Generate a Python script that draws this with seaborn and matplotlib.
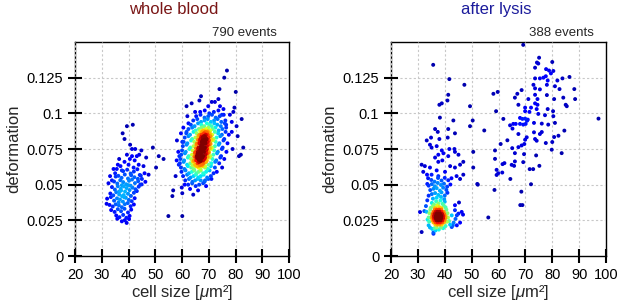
import numpy as np
import pandas as pd
import matplotlib
matplotlib.use('Agg')
import matplotlib.pyplot as plt
import seaborn as sns


# ---- whole blood: (cell size [um^2], deformation) events ----
wb_lymphocytes = [
    (39.4, .091), (41.6, .092), (37.8, .086), (38.5, .082), (40.6, .078), (41.3, .075), (42.5, .075), (44.8, .074),
    (39.4, .071), (41.3, .070), (43.1, .070), (46.6, .069), (36.5, .068), (38.5, .066), (40.0, .064), (43.8, .064),
    (45.6, .063), (34.4, .061), (35.6, .061), (37.5, .060), (41.9, .062), (42.3, .067), (44.0, .071), (40.5, .068),
    (36.0, .064), (35.0, .058), (33.1, .056), (33.8, .053), (32.5, .051), (45.0, .054), (46.3, .052), (44.4, .050),
    (46.0, .058), (37.0, .063),
    (38.0, .0595), (39.5, .0605), (40.8, .0578), (42.0, .0592), (43.3, .0608), (44.2, .0568),
    (36.2, .0562), (37.4, .0548), (38.6, .0571), (39.8, .0543), (41.0, .0566), (42.2, .0552), (43.5, .0541),
    (44.6, .0563), (35.2, .0557),
    (34.6, .0522), (35.8, .0508), (36.9, .0531), (38.0, .0518), (39.1, .0503), (40.2, .0527), (41.3, .0536),
    (42.4, .0511), (43.6, .0524), (44.9, .0502), (37.5, .0496), (40.8, .0493),
    (33.8, .0483), (34.9, .0466), (36.0, .0489), (37.1, .0471), (38.2, .0488), (39.3, .0476), (40.4, .0462),
    (41.5, .0479), (42.6, .0468), (43.8, .0486), (36.5, .0452), (39.8, .0497),
    (33.2, .0438), (34.3, .0425), (35.4, .0447), (36.5, .0431), (37.6, .0419), (38.7, .0452), (39.8, .0436),
    (40.9, .0421), (42.0, .0443), (43.1, .0455), (37.2, .0458), (38.2, .0427),
    (32.0, .0402), (33.4, .0413), (34.6, .0388), (35.7, .0404), (36.8, .0396), (37.9, .0381), (39.0, .0408),
    (40.1, .0393), (41.2, .0384), (42.3, .0405), (38.4, .0412), (36.3, .0376),
    (31.8, .0366), (32.9, .0358), (34.1, .0347), (35.2, .0362), (36.4, .0355), (37.5, .0342), (38.6, .0363),
    (39.7, .0371), (40.8, .0349), (42.0, .0361),
    (33.5, .0322), (34.8, .0309), (36.0, .0328), (37.2, .0314), (38.5, .0331), (39.8, .0305), (41.0, .0325),
    (35.4, .0284), (36.6, .0272), (38.0, .0288), (39.2, .0268), (40.4, .0281), (35.8, .0261), (38.6, .0251),
    (39.3, .0232), (37.5, .0243), (40.2, .0259),
]

wb_granulocytes = [
    (62.3, .050), (63.8, .051), (65.1, .049), (66.4, .050), (67.9, .051),
    (61.2, .053), (62.6, .054), (63.9, .052), (64.9, .053), (65.9, .054), (67.0, .053), (68.4, .052), (69.8, .054),
    (60.4, .056), (61.9, .057), (63.2, .055), (64.3, .056), (65.2, .057), (66.1, .055), (67.0, .056), (68.1, .057),
    (69.4, .055), (70.8, .056),
    (59.8, .059), (61.3, .060), (62.6, .058), (63.7, .059), (64.6, .060), (65.4, .058), (66.2, .059), (67.0, .060),
    (67.9, .058), (69.0, .059), (70.3, .060), (71.8, .058),
    (59.6, .062), (60.9, .061), (62.2, .063), (63.4, .062), (64.4, .061), (65.3, .063), (66.1, .062), (66.9, .061),
    (67.7, .063), (68.6, .062), (69.6, .061), (70.8, .063), (72.3, .062),
    (59.2, .065), (60.6, .066), (61.9, .064), (63.1, .065), (64.1, .066), (65.0, .064), (65.8, .065), (66.5, .066),
    (67.2, .064), (68.0, .065), (68.9, .066), (69.9, .064), (71.0, .065), (72.4, .066), (73.9, .065),
    (59.4, .068), (60.8, .067), (62.2, .069), (63.4, .068), (64.5, .067), (65.4, .069), (66.2, .068), (66.9, .067),
    (67.6, .069), (68.4, .068), (69.3, .067), (70.3, .069), (71.4, .068), (72.8, .067), (74.3, .069),
    (59.7, .071), (61.1, .072), (62.5, .070), (63.7, .071), (64.8, .072), (65.7, .070), (66.5, .071), (67.2, .072),
    (67.9, .070), (68.7, .071), (69.6, .072), (70.6, .070), (71.7, .071), (73.1, .072), (74.6, .070),
    (60.0, .074), (61.4, .073), (62.8, .075), (64.0, .074), (65.1, .073), (66.0, .075), (66.8, .074), (67.5, .073),
    (68.2, .075), (69.0, .074), (69.9, .073), (70.9, .075), (72.0, .074), (73.4, .073), (74.9, .075),
    (60.3, .077), (61.7, .078), (63.1, .076), (64.3, .077), (65.4, .078), (66.3, .076), (67.1, .077), (67.8, .078),
    (68.5, .076), (69.3, .077), (70.2, .078), (71.2, .076), (72.3, .077), (73.7, .078), (75.2, .076),
    (60.6, .080), (62.0, .079), (63.4, .081), (64.6, .080), (65.7, .079), (66.6, .081), (67.4, .080), (68.1, .079),
    (68.8, .081), (69.6, .080), (70.5, .079), (71.5, .081), (72.6, .080), (74.0, .079), (75.5, .081),
    (61.0, .083), (62.4, .084), (63.8, .082), (65.0, .083), (66.1, .084), (67.0, .082), (67.7, .083), (68.4, .084),
    (69.1, .082), (69.9, .083), (70.8, .084), (71.8, .082), (72.9, .083), (74.3, .084), (75.8, .082),
    (61.6, .086), (63.0, .085), (64.3, .087), (65.5, .086), (66.6, .085), (67.5, .087), (68.2, .086), (68.9, .085),
    (69.6, .087), (70.4, .086), (71.3, .085), (72.3, .087), (73.5, .086), (74.9, .085), (76.3, .087),
    (62.4, .089), (63.8, .090), (65.1, .088), (66.3, .089), (67.3, .090), (68.2, .088), (69.0, .089), (69.8, .090),
    (70.6, .088), (71.5, .089), (72.5, .090), (73.7, .088), (75.1, .089), (76.5, .090),
    (63.3, .092), (64.7, .091), (66.0, .093), (67.2, .092), (68.3, .091), (69.3, .093), (70.2, .092), (71.1, .091),
    (72.1, .093), (73.2, .092), (74.5, .091), (76.0, .093),
    (64.2, .095), (65.7, .096), (67.1, .094), (68.4, .095), (69.6, .096), (70.8, .094), (72.0, .095), (73.3, .096),
    (74.7, .094), (76.2, .095),
    (65.3, .098), (66.9, .099), (68.4, .097), (69.8, .098), (71.2, .099), (72.6, .097), (74.1, .098), (75.6, .099),
    (66.8, .101), (68.5, .102), (70.2, .100), (71.9, .101), (73.6, .102),
    # packed centre
    (64.0, .0635), (65.0, .064), (65.9, .063), (66.7, .0635), (67.6, .064), (68.6, .063),
    (64.3, .0665), (65.3, .067), (66.2, .066), (67.0, .0665), (67.9, .067), (68.9, .066),
    (64.6, .0695), (65.5, .070), (66.3, .069), (67.0, .0695), (67.7, .070), (68.6, .069), (69.6, .0695),
    (64.9, .0725), (65.9, .073), (66.7, .072), (67.4, .0725), (68.2, .073), (69.1, .072), (70.1, .0725),
    (65.2, .0755), (66.2, .076), (67.0, .075), (67.7, .0755), (68.5, .076), (69.4, .075), (70.4, .0755),
    (65.5, .0785), (66.5, .079), (67.3, .078), (68.0, .0785), (68.8, .079), (69.7, .078), (70.7, .0785),
    (65.9, .0815), (66.9, .082), (67.7, .081), (68.4, .0815), (69.2, .082), (70.1, .081), (71.0, .0815),
    (66.3, .0845), (67.3, .085), (68.1, .084), (68.8, .0845), (69.6, .085), (70.5, .084),
    (66.8, .0875), (67.8, .088), (68.7, .087), (69.6, .0875), (70.5, .088),
    (66.0, .0685), (66.6, .0705), (67.1, .0685), (65.8, .0715), (66.4, .0675), (66.9, .0725),
    (67.9, .0805), (68.6, .0835), (69.3, .0865), (67.2, .0835),
]

wb_scattered = [
    (49.1, .076), (51.3, .070), (53.1, .068), (50.3, .062), (47.5, .057), (54.9, .028), (60.1, .028),
    (76.8, .130), (75.8, .125), (80.1, .115), (67.1, .112), (66.5, .109), (63.6, .107), (61.7, .105), (71.1, .108),
    (72.3, .108), (74.2, .105), (79.6, .104), (79.2, .101), (77.9, .099), (82.3, .096), (80.4, .091), (78.6, .087),
    (80.8, .084), (82.9, .076), (82.0, .071), (81.3, .070), (78.9, .075), (73.0, .059), (68.6, .053), (64.2, .043),
    (59.9, .048), (60.1, .044), (56.7, .046), (56.4, .042), (57.6, .056), (58.0, .067), (58.6, .073), (58.1, .081),
    (59.6, .086), (60.1, .080), (61.7, .087), (62.4, .093), (64.9, .101), (69.8, .105), (73.6, .110), (74.0, .117),
    (58.8, .064), (59.0, .070), (60.5, .090), (62.0, .098), (76.5, .092), (77.5, .085), (77.0, .079), (76.6, .073),
    (75.8, .068), (75.0, .062), (71.0, .054), (61.0, .050), (63.0, .047), (66.0, .046), (69.0, .049), (74.9, .099),
    (75.5, .103), (78.6, .094),
]

# ---- after lysis ----
lys_core = [
    (36.5, .022), (37.3, .022), (38.1, .022), (38.9, .022),
    (35.8, .0235), (36.6, .0235), (37.4, .0235), (38.2, .0235), (39.0, .0235), (39.7, .0235),
    (35.4, .025), (36.1, .025), (36.9, .025), (37.6, .025), (38.4, .025), (39.1, .025), (39.9, .025),
    (35.2, .0265), (35.9, .0265), (36.6, .0265), (37.3, .0265), (38.0, .0265), (38.7, .0265), (39.4, .0265), (40.2, .0265),
    (35.3, .028), (36.0, .028), (36.7, .028), (37.4, .028), (38.1, .028), (38.8, .028), (39.5, .028), (40.3, .028),
    (35.5, .0295), (36.2, .0295), (36.9, .0295), (37.6, .0295), (38.3, .0295), (39.0, .0295), (39.8, .0295),
    (35.8, .031), (36.6, .031), (37.3, .031), (38.0, .031), (38.8, .031), (39.6, .031),
    (36.3, .0325), (37.1, .0325), (37.9, .0325), (38.7, .0325),
]

lys_small = [
    (34.5, .020), (35.3, .019), (36.2, .0195), (37.0, .020), (37.8, .0185), (38.6, .020), (39.4, .0195), (35.8, .0165),
    (36.6, .018), (34.0, .0215), (40.3, .021),
    (34.2, .024), (34.0, .027), (34.3, .030), (34.6, .0325), (33.6, .0255), (33.2, .031),
    (40.8, .024), (41.2, .027), (41.0, .030), (40.6, .0325), (41.6, .0245),
    (34.8, .0338), (35.6, .0349), (36.4, .0336), (37.2, .0352), (38.0, .0343), (38.8, .0335), (39.6, .0354), (40.3, .0341),
    (35.2, .0372), (36.0, .0361), (36.8, .0384), (37.6, .0368), (38.4, .0389), (39.2, .0366), (40.0, .0381),
    (35.6, .0402), (37.0, .0409), (38.6, .0414), (39.8, .0398),
    (34.0, .0423), (35.2, .0434), (36.4, .0441), (37.6, .0428), (38.8, .0446), (40.0, .0424), (41.0, .0443),
    (34.6, .0462), (35.8, .0471), (37.0, .0476), (38.2, .0458), (39.4, .0479), (40.6, .0463),
    (34.0, .0493), (35.2, .0504), (36.3, .0489), (37.4, .0512), (38.6, .0498), (39.7, .0507), (40.9, .0486),
    (42.1, .0501), (35.0, .0533), (36.2, .0521), (37.5, .0547), (38.8, .0529), (40.0, .0548), (41.3, .0531),
    (33.5, .0505), (33.8, .0545), (42.5, .0545),
    (43.8, .0356), (45.3, .0375), (43.8, .0321), (45.1, .0297), (46.3, .0309), (42.6, .0285), (44.5, .0285),
    (43.3, .0234), (44.5, .0215), (42.6, .0203), (45.7, .0234), (44.0, .026), (46.8, .029), (43.0, .0215), (42.0, .022),
    (35.8, .0156), (31.4, .0168), (30.8, .0308), (32.4, .0315), (33.0, .035), (33.5, .039),
    (35.7, .134), (41.7, .124), (47.3, .120), (41.3, .113), (41.0, .109), (38.9, .107), (38.0, .106), (49.4, .105),
    (38.2, .097), (43.2, .095), (50.4, .095), (49.4, .091), (36.4, .089), (41.3, .089), (37.4, .087), (43.8, .086),
    (33.3, .081), (34.9, .083), (38.0, .082), (41.1, .083), (34.5, .078), (35.1, .076), (37.0, .077), (38.9, .074),
    (43.6, .075), (43.8, .073), (41.7, .075), (37.6, .071), (39.5, .072), (41.3, .070), (45.1, .071), (50.6, .073),
    (31.4, .064), (36.4, .069), (37.6, .066), (39.1, .067), (32.6, .063), (34.5, .062), (37.0, .060), (45.7, .064),
    (46.9, .066), (42.0, .063), (43.8, .062), (40.1, .059), (35.1, .057), (37.6, .056), (44.4, .056), (45.7, .054),
    (46.9, .057), (50.6, .062), (52.3, .050), (54.7, .088), (56.2, .027), (32.0, .059), (33.4, .057),
]

lys_large = [
    (69.2, .148), (75.1, .139), (80.0, .136), (74.3, .1356), (74.8, .1349), (73.6, .132), (77.7, .131), (78.8, .130),
    (80.4, .1297), (79.5, .128), (77.6, .126), (86.4, .1255), (83.8, .1245), (81.9, .123), (78.3, .123), (76.7, .125),
    (75.4, .1245), (73.6, .1245), (78.0, .120), (81.0, .119), (82.7, .117), (88.2, .117), (75.4, .1168), (73.6, .1175),
    (73.0, .120), (68.6, .1163), (67.0, .1137), (59.7, .115), (58.1, .1137), (66.1, .111), (73.6, .113), (78.0, .1128),
    (71.1, .110), (74.5, .110), (80.7, .110), (84.1, .111), (88.5, .110), (67.4, .106), (73.6, .107), (74.5, .106),
    (85.0, .106), (85.4, .105), (69.9, .104), (72.1, .104), (69.9, .1015), (71.5, .101), (74.2, .103), (78.3, .103),
    (80.3, .1015), (74.8, .0996), (77.3, .0987), (80.4, .098), (59.1, .1015), (68.0, .0968), (68.9, .0961),
    (69.9, .0963), (70.9, .0956), (61.8, .0961), (97.2, .0963), (65.5, .0926), (64.3, .0916), (66.4, .0926),
    (68.0, .0926), (69.2, .0921), (70.1, .0926), (73.2, .0933), (76.1, .0928), (78.5, .0921), (81.0, .0933),
    (65.2, .0893), (67.4, .0855), (70.5, .0832), (73.2, .0867), (75.4, .0855), (76.1, .0869), (80.7, .0834),
    (82.3, .0843), (84.5, .0879), (63.3, .0811), (69.9, .0815), (74.2, .0808), (73.6, .082), (77.6, .0792),
    (80.0, .0799), (60.8, .0785), (69.6, .0785), (68.6, .0775), (65.1, .0756), (67.4, .0763), (79.8, .0745),
    (83.5, .0721), (58.7, .074), (66.1, .0721), (69.5, .0714), (74.0, .0705), (58.7, .0681), (62.2, .0651),
    (61.5, .0644), (66.1, .0663), (64.9, .0639), (65.8, .0632), (69.2, .0658), (75.2, .0632), (59.3, .0604),
    (59.9, .058), (61.4, .0585), (71.6, .0609), (72.9, .0609), (59.3, .0568), (64.4, .054), (72.1, .0503),
    (58.5, .0463), (68.5, .0451), (68.1, .0357), (68.9, .0357), (52.1, .0505),
    (70.6, .0948),
]

x_ticks = [20, 30, 40, 50, 60, 70, 80, 90, 100]
y_ticks = [0, 0.025, 0.05, 0.075, 0.1, 0.125]
y_tick_labels = ['0', '0.025', '0.05', '0.075', '0.1', '0.125']
panel_titles = ['whole blood', 'after lysis']
title_colors = ['#7a1616', '#1c1c9c']
event_labels = ['790 events', '388 events']


def events_frame(*groups):
    pts = [p for g in groups for p in g]
    df = pd.DataFrame(pts, columns=['size', 'deformation'])
    # local point density, measured in screen pixels
    px = df['size'].values * 2.68
    py = df['deformation'].values / 0.000704
    d2 = (px[:, None] - px[None, :]) ** 2 + (py[:, None] - py[None, :]) ** 2
    dens = np.exp(-d2 / (2 * 5.8 ** 2)).sum(axis=1)
    df['density'] = (dens / dens.max()) ** 1.4
    return df.sort_values('density')


sns.set_style('ticks')
plt.rcParams.update({
    'font.family': ['Liberation Sans', 'DejaVu Sans'],
    'mathtext.fontset': 'custom',
    'mathtext.it': 'Liberation Sans:italic',
    'mathtext.rm': 'Liberation Sans',
    'axes.edgecolor': 'black', 'axes.linewidth': 1.0,
})

fig = plt.figure(figsize=(6.17, 3.02), dpi=100)
ax1 = fig.add_axes([0.1216, 0.1523, 0.3468, 0.7086])
ax2 = fig.add_axes([0.6337, 0.1523, 0.3485, 0.7086])

frames = [events_frame(wb_lymphocytes, wb_granulocytes, wb_scattered),
          events_frame(lys_core, lys_small, lys_large)]
title_x = [0.282, 0.804]
jet = matplotlib.colormaps['jet']

for i, (ax, df) in enumerate(zip([ax1, ax2], frames)):
    # points sit above the axis artists so the dotted grid stays underneath
    sns.scatterplot(data=df, x='size', y='deformation', hue='density', palette=jet,
                    hue_norm=(-0.03, 0.9), s=8, linewidth=0, marker='o', legend=False,
                    zorder=3, ax=ax)
    ax.set_xlim(20, 100)
    ax.set_ylim(0, 0.15)
    ax.set_xticks(x_ticks)
    ax.set_yticks(y_ticks)
    ax.set_yticklabels(y_tick_labels)
    ax.set_axisbelow(False)
    ax.grid(True, color='#c8c8c8', linestyle=(0, (2, 2)), linewidth=0.8)
    ax.tick_params(which='major', direction='inout', length=10, width=1.5, colors='black',
                   labelsize=10.5, pad=3.5, left=True, bottom=True)
    ax.set_xlabel(r'cell size [$\mathit{\mu}$m²]', fontsize=12, labelpad=1)
    ax.set_ylabel('deformation', fontsize=12, labelpad=4)
    ax.text(0.944, 1.012, event_labels[i], transform=ax.transAxes, ha='right', va='bottom', fontsize=9.5)
    fig.text(title_x[i], 0.97, panel_titles[i], ha='center', va='center', fontsize=12, color=title_colors[i])

fig.savefig('out.png', dpi=100)
